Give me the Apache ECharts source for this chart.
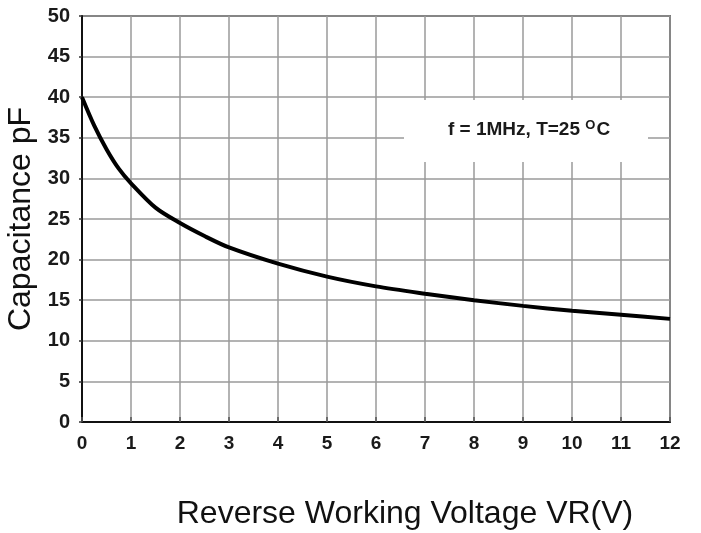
<!DOCTYPE html>
<html>
<head>
<meta charset="utf-8">
<script src="https://cdn.jsdelivr.net/npm/echarts@6/dist/echarts.min.js"></script>
<style>html,body{margin:0;padding:0;background:#fff;}#c{width:701px;height:533px;}</style>
</head>
<body>
<div id="c"></div>
<script>
var voltage = [0, 0.25, 0.5, 0.75, 1, 1.5, 2, 2.5, 3, 4, 5, 6, 7, 8, 9, 10, 11, 12];
var capacitance = [40, 36.5, 33.6, 31.2, 29.4, 26.4, 24.5, 22.9, 21.5, 19.5, 17.9, 16.7, 15.8, 15, 14.3, 13.7, 13.2, 12.7];
var xTicks = [0,1,2,3,4,5,6,7,8,9,10,11,12];
var yTicks = [0,5,10,15,20,25,30,35,40,45,50];

var chart = echarts.init(document.getElementById('c'), null, {renderer: 'canvas'});
var sans = "'Liberation Sans', Arial, sans-serif";
chart.setOption({
  animation: false,
  backgroundColor: '#fff',
  grid: {left: 82, right: 31, top: 16, bottom: 111, containLabel: false, outerBoundsMode: 'none',
         show: true, borderColor: '#111', borderWidth: 1.5, backgroundColor: 'transparent'},
  xAxis: {
    type: 'value', min: xTicks[0], max: xTicks[xTicks.length-1], interval: 1,
    axisLine: {show: true, lineStyle: {color: '#111', width: 2}},
    axisTick: {show: true, inside: true, length: 5, lineStyle: {color: '#555', width: 1.5}},
    axisLabel: {margin: 12, color: '#1a1a1a', fontFamily: sans, fontWeight: 'bold', fontSize: 19},
    splitLine: {show: true, lineStyle: {color: '#9a9a9a', width: 1.5}},
    name: 'Reverse Working Voltage VR(V)', nameLocation: 'middle', nameGap: 76,
    nameTextStyle: {color: '#111', fontFamily: sans, fontSize: 32, padding: [0, 0, 0, 58]}
  },
  yAxis: {
    type: 'value', min: yTicks[0], max: yTicks[yTicks.length-1], interval: 5,
    axisLine: {show: true, lineStyle: {color: '#111', width: 2}},
    axisTick: {show: true, length: 3, lineStyle: {color: '#333', width: 1.5}},
    axisLabel: {margin: 12, color: '#1a1a1a', fontFamily: sans, fontWeight: 'bold', fontSize: 20},
    splitLine: {show: true, lineStyle: {color: '#9a9a9a', width: 1.5}},
    name: 'Capacitance pF', nameLocation: 'middle', nameGap: 32, nameRotate: 90,
    nameTextStyle: {color: '#111', fontFamily: sans, fontSize: 32}
  },
  graphic: [{
    type: 'rect', left: 404, top: 100, shape: {width: 244, height: 62}, style: {fill: '#fff'}, z: 5
  }, {
    type: 'text', left: 448, top: 119, z: 6,
    style: {
      text: '{a|f = 1MHz, T=25 }{s|O}{a|C}',
      rich: {
        a: {fontFamily: sans, fontWeight: 'bold', fontSize: 19, fill: '#1a1a1a', verticalAlign: 'middle', lineHeight: 22},
        s: {fontFamily: sans, fontWeight: 'bold', fontSize: 13, fill: '#1a1a1a', verticalAlign: 'top', lineHeight: 22, padding: [0, 1, 0, 0]}
      }
    }
  }],
  series: [{
    type: 'line', data: voltage.map(function(v, i){ return [v, capacitance[i]]; }),
    smooth: 0.3, showSymbol: false, z: 10,
    lineStyle: {color: '#000', width: 4}
  }]
});
</script>
</body>
</html>
